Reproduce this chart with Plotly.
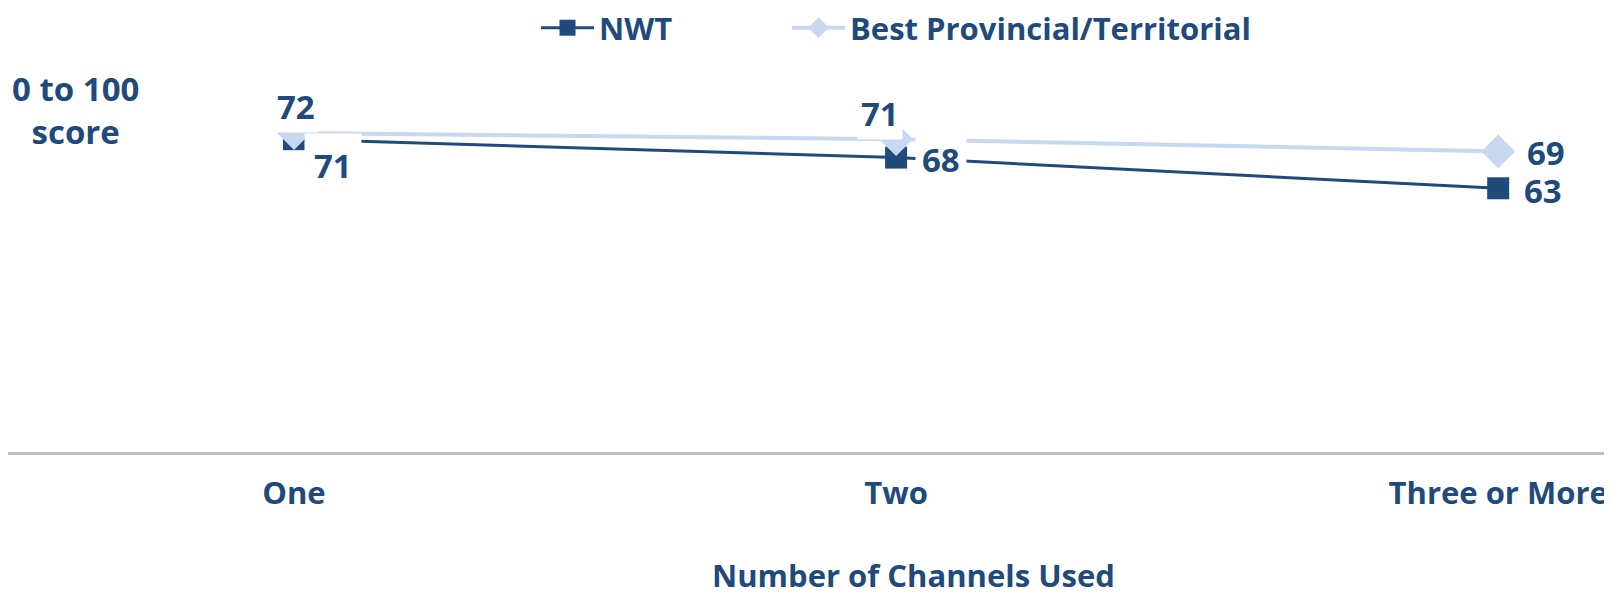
import plotly.graph_objects as go

# chart data
categories = ["One", "Two", "Three or More"]
nwt = [71, 68, 63]
best = [72, 71, 69]

FONT = "Open Sans, Lato, sans-serif"
DARK = "#1F4A7C"
LIGHT = "#C6D9F1"

# page body has an 8px margin, so the figure is 8px smaller each way
W, H = 1604, 584

fig = go.Figure()

fig.add_trace(go.Scatter(
    x=categories, y=nwt, name="NWT",
    mode="lines+markers",
    line=dict(color=DARK, width=3),
    marker=dict(symbol="square", size=22, color=DARK),
    legendwidth=183,
))
fig.add_trace(go.Scatter(
    x=categories, y=best, name="Best Provincial/Territorial",
    mode="lines+markers",
    line=dict(color=LIGHT, width=4),
    marker=dict(symbol="diamond", size=26, color=LIGHT),
))

# data labels (white boxes like Excel): (xshift, yshift, padding)
lab_font = dict(family=FONT, size=33, color=DARK, weight="bold")
nwt_shift = [(39, -26, 9), (45, -2, 6), (45, -2, 2)]
best_shift = [(2, 27, 3), (-16, 26, 3), (48, -1, 2)]
for cat, v, (dx, dy, pad) in zip(categories, best, best_shift):
    fig.add_annotation(x=cat, y=v, text=str(v), showarrow=False,
                       xshift=dx, yshift=dy, bgcolor="white", borderpad=pad,
                       font=lab_font)
for cat, v, (dx, dy, pad) in zip(categories, nwt, nwt_shift):
    fig.add_annotation(x=cat, y=v, text=str(v), showarrow=False,
                       xshift=dx, yshift=dy, bgcolor="white", borderpad=pad,
                       font=lab_font)

# y-axis label and x-axis title
fig.add_annotation(x=67 / W, y=0.929, xref="paper", yref="paper",
                   xanchor="center", yanchor="middle",
                   text="0 to 100<br>score", showarrow=False, align="center",
                   font=dict(family=FONT, size=33, color=DARK, weight="bold"))
fig.add_annotation(x=906 / W, y=-0.333, xref="paper", yref="paper",
                   xanchor="center", yanchor="middle",
                   text="Number of Channels Used", showarrow=False,
                   font=dict(family=FONT, size=31, color=DARK, weight="bold"))

fig.update_layout(
    width=W, height=H,
    margin=dict(l=0, r=0, t=76, b=140, autoexpand=False),
    paper_bgcolor="white", plot_bgcolor="white",
    font=dict(family=FONT, color=DARK),
    showlegend=True,
    legend=dict(orientation="h", x=528 / W, xanchor="left", y=1.152, yanchor="middle",
                font=dict(family=FONT, size=31, color=DARK, weight="bold"),
                itemwidth=53, bgcolor="rgba(0,0,0,0)"),
    xaxis=dict(type="category", range=[-0.475, 2.189], showgrid=False, zeroline=False,
               showline=True, linecolor="#BFBFBF", linewidth=3, ticks="",
               ticklabelstandoff=12, automargin=False,
               tickfont=dict(family=FONT, size=31, color=DARK, weight="bold")),
    yaxis=dict(range=[20, 80], visible=False, automargin=False),
)

fig.write_html("out.html")
